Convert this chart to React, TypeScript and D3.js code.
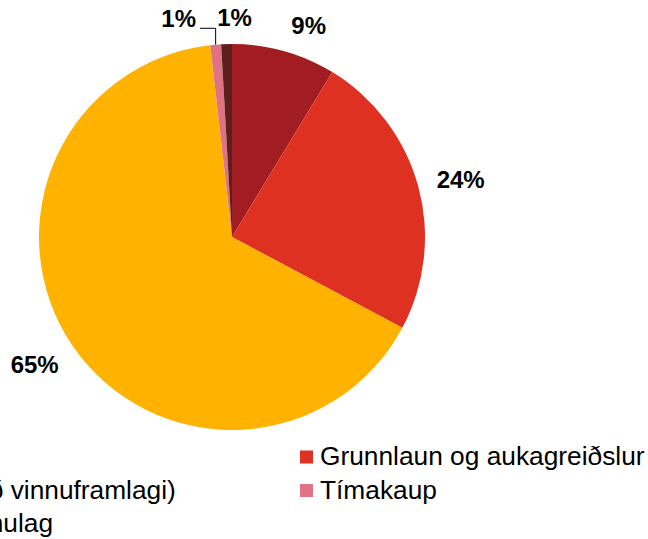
import * as d3 from 'd3';

import { useCallback } from 'react';

// payment arrangement shares (%), clockwise from 12 o'clock
const categories = [
  'Mánaðarlaun',
  'Grunnlaun og aukagreiðslur',
  'Afkastalaun (háð vinnuframlagi)',
  'Tímakaup',
  'Blandað fyrirkomulag',
];
const shares = [8.7, 24.1, 65.4, 0.9, 0.9];
const colors = ['#A11D21', '#DE3121', '#FFB300', '#E07383', '#5C1F1E'];

const width = 648;
const height = 539;
const cx = 232;
const cy = 237;
const radius = 193;
const labelPad = 18;
const labelSize = 24;
const font = '"Liberation Sans", Arial, sans-serif';

// manual label nudges, as the source chart had them
const labelNudge: [number, number][] = [
  [15, 0],
  [2, 0],
  [-3, 4],
  [-34, 0],
  [9, 0],
];

// legend is wider than the chart area, so its left column runs off the edge
const legend = { x: -194, y: 465, colW: 514, rowH: 33.5, box: 13, fontSize: 26.3 };

const App = () => {
  const draw = useCallback((ref: SVGSVGElement | null) => {
    if (!ref) return;

    const svg = d3.select(ref);
    svg.selectAll('*').remove();

    const data = categories.map((name, i) => ({ name, value: shares[i], color: colors[i] }));

    const pie = d3
      .pie<{ name: string; value: number; color: string }>()
      .sort(null)
      .value((d) => d.value);
    const arcs = pie(data);

    const arc = d3
      .arc<d3.PieArcDatum<{ name: string; value: number; color: string }>>()
      .innerRadius(0)
      .outerRadius(radius);

    const g = svg.append('g').attr('transform', `translate(${cx},${cy})`);

    g.selectAll('path.slice')
      .data(arcs)
      .join('path')
      .attr('class', 'slice')
      .attr('d', arc)
      .attr('fill', (d) => d.data.color);

    // percent labels outside the pie
    const capH = labelSize * 0.716;
    arcs.forEach((a, i) => {
      const mid = (a.startAngle + a.endAngle) / 2;
      const s = Math.sin(mid);
      const c = Math.cos(mid);
      const text = `${Math.round(a.data.value)}%`;
      const w = text.length === 2 ? labelSize * 1.445 : labelSize * 2.0;
      const [nx, ny] = labelNudge[i];
      const lx = (radius + labelPad) * s + (s * w) / 2 + nx;
      const ly = -(radius + labelPad) * c - (c * capH) / 2 + ny;

      g.append('text')
        .attr('x', lx)
        .attr('y', ly + capH / 2)
        .attr('text-anchor', 'middle')
        .attr('font-family', font)
        .attr('font-weight', 'bold')
        .attr('font-size', labelSize)
        .attr('fill', '#000')
        .text(text);

      // leader line for labels pushed away from their slice
      if (Math.abs(nx) > 20) {
        const ax = radius * s;
        const ay = -radius * c;
        const startX = nx < 0 ? lx + w / 2 + 4 : lx - w / 2 - 4;
        const startY = ly + capH / 2 + 1.5;
        g.append('path')
          .attr('d', `M${startX},${startY}H${ax}V${ay}`)
          .attr('fill', 'none')
          .attr('stroke', '#000')
          .attr('stroke-width', 1);
      }
    });

    // legend, two columns filled row by row
    const lg = svg.append('g');
    data.forEach((d, i) => {
      const col = i % 2;
      const row = Math.floor(i / 2);
      const x = legend.x + col * legend.colW;
      const y = legend.y + row * legend.rowH;
      lg.append('rect')
        .attr('x', x - 20)
        .attr('y', y - 14.5)
        .attr('width', legend.box)
        .attr('height', legend.box)
        .attr('fill', d.color);
      lg.append('text')
        .attr('x', x)
        .attr('y', y)
        .attr('font-family', font)
        .attr('font-size', legend.fontSize)
        .attr('fill', '#000')
        .text(d.name);
    });
  }, []);

  return (
    <svg
      ref={draw}
      width={width}
      height={height}
      style={{ position: 'absolute', left: 0, top: 0, background: '#fff' }}
    ></svg>
  );
};

export default App;
